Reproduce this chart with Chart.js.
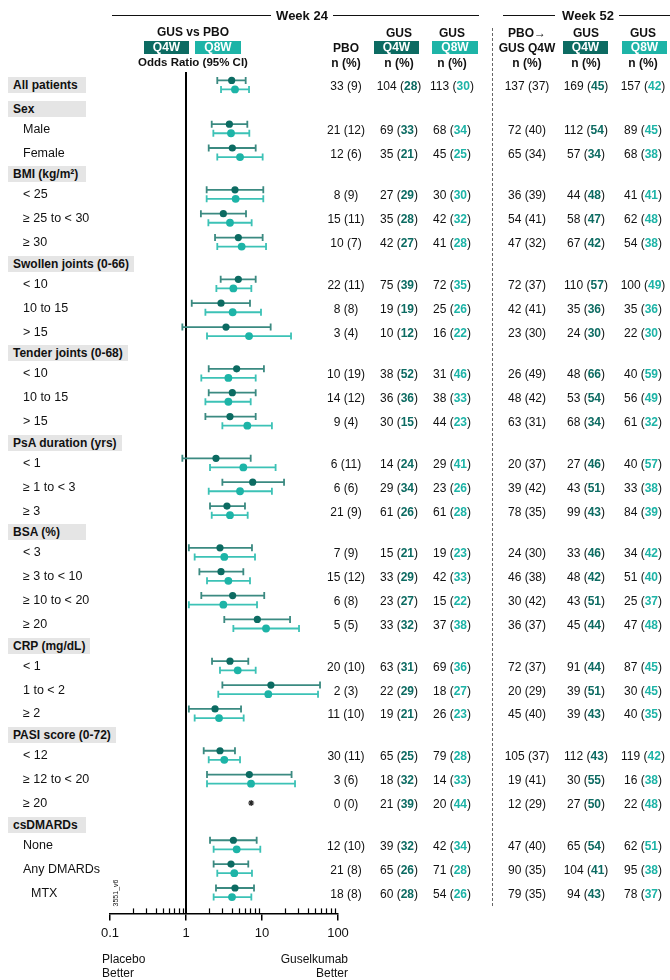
<!DOCTYPE html>
<html>
<head>
<meta charset="utf-8">
<script src="https://cdn.jsdelivr.net/npm/chart.js@4.4.0/dist/chart.umd.min.js"></script>
<style>
  body { margin: 0; background: #fff; font-family: "Liberation Sans", Arial, Helvetica, sans-serif; color: #111; }
  #page { position: relative; width: 670px; height: 980px; overflow: hidden; }
  #c { position: absolute; left: 0; top: 0; }
  .t { position: absolute; white-space: nowrap; line-height: 1; }
  .hbox { position: absolute; background: #e5e5e5; font-weight: bold; font-size: 12px; line-height: 16px; height: 16px; padding: 0 5px; min-width: 68px; white-space: nowrap; }
  .tag { position: absolute; color: #fff; font-weight: bold; font-size: 12px; line-height: 13px; height: 13px; text-align: center; }
  .hl { position: absolute; height: 0; border-top: 1px solid #111; }
</style>
</head>
<body>
<div id="page">
  <canvas id="c" width="670" height="980"></canvas>
</div>
<script>
// --- rows (A = all patients, H = group header, S = subgroup, M = sub-subgroup) ---
const rowLabels = ['All patients', 'Sex', 'Male', 'Female', 'BMI (kg/m²)', '< 25', '≥ 25 to < 30', '≥ 30',
  'Swollen joints (0-66)', '< 10', '10 to 15', '> 15', 'Tender joints (0-68)', '< 10', '10 to 15', '> 15',
  'PsA duration (yrs)', '< 1', '≥ 1 to < 3', '≥ 3', 'BSA (%)', '< 3', '≥ 3 to < 10', '≥ 10 to < 20', '≥ 20',
  'CRP (mg/dL)', '< 1', '1 to < 2', '≥ 2', 'PASI score (0-72)', '< 12', '≥ 12 to < 20', '≥ 20',
  'csDMARDs', 'None', 'Any DMARDs', 'MTX'];
const rowKinds = ['A', 'H', 'S', 'S', 'H', 'S', 'S', 'S', 'H', 'S', 'S', 'S', 'H', 'S', 'S', 'S',
  'H', 'S', 'S', 'S', 'H', 'S', 'S', 'S', 'S', 'H', 'S', 'S', 'S', 'H', 'S', 'S', 'S', 'H', 'S', 'S', 'M'];

// --- odds ratios (95% CI), null where not shown ---
const q4wOR = [3.99, null, 3.72, 4.07, null, 4.41, 3.1, 4.88, null, 4.88, 2.89, 3.36, null, 4.64, 4.07, 3.79,
  null, 2.48, 7.54, 3.46, null, 2.8, 2.89, 4.11, 8.68, null, 3.79, 13.1, 2.41, null, 2.8, 6.81, null, null, 4.2, 3.91, 4.41];
const q4wLo = [2.58, null, 2.18, 1.99, null, 1.87, 1.57, 2.41, null, 2.86, 1.19, 0.895, null, 1.99, 1.99, 1.8,
  null, 0.895, 3.01, 2.07, null, 1.09, 1.5, 1.59, 3.19, null, 2.2, 3.01, 1.09, null, 1.71, 1.89, null, null, 2.07, 2.31, 2.48];
const q4wHi = [6.1, null, 6.41, 8.26, null, 10.4, 6.16, 10.2, null, 8.26, 6.95, 13.0, null, 10.6, 8.26, 8.26,
  null, 7.1, 19.5, 5.97, null, 7.38, 5.68, 10.7, 23.4, null, 6.6, 58, 5.3, null, 4.41, 24.5, null, null, 8.51, 6.6, 7.85];

const q8wOR = [4.41, null, 3.91, 5.14, null, 4.5, 3.79, 5.4, null, 4.2, 4.11, 6.75, null, 3.61, 3.61, 6.41,
  null, 5.68, 5.14, 3.79, null, 3.19, 3.61, 3.1, 11.3, null, 4.79, 12.1, 2.72, null, 3.19, 7.17, null, null, 4.64, 4.32, 4.03];
const q8wLo = [2.89, null, 2.29, 2.58, null, 1.87, 1.97, 2.58, null, 2.51, 1.8, 1.89, null, 1.59, 1.8, 3.01,
  null, 2.07, 1.99, 2.18, null, 1.3, 1.89, 1.09, 4.2, null, 2.8, 2.66, 1.3, null, 1.99, 1.89, null, null, 2.31, 2.58, 2.31];
const q8wHi = [6.75, null, 6.81, 10.2, null, 10.4, 7.31, 11.3, null, 7.24, 9.7, 24.1, null, 8.26, 7.1, 13.5,
  null, 15.1, 13.5, 6.48, null, 8.09, 6.95, 8.6, 30.7, null, 8.26, 54.6, 5.74, null, 5.14, 27.2, null, null, 9.5, 7.38, 7.24];

// not estimable (PASI >= 20): asterisk
const starRows = [32];
const starOR = [7.2];

// --- responders n (%) ---
const pbo24N   = [33, null, 21, 12, null, 8, 15, 10, null, 22, 8, 3, null, 10, 14, 9, null, 6, 6, 21, null, 7, 15, 6, 5, null, 20, 2, 11, null, 30, 3, 0, null, 12, 21, 18];
const pbo24Pct = [9, null, 12, 6, null, 9, 11, 7, null, 11, 8, 4, null, 19, 12, 4, null, 11, 6, 9, null, 9, 12, 8, 5, null, 10, 3, 10, null, 11, 6, 0, null, 10, 8, 8];
const q4w24N   = [104, null, 69, 35, null, 27, 35, 42, null, 75, 19, 10, null, 38, 36, 30, null, 14, 29, 61, null, 15, 33, 23, 33, null, 63, 22, 19, null, 65, 18, 21, null, 39, 65, 60];
const q4w24Pct = [28, null, 33, 21, null, 29, 28, 27, null, 39, 19, 12, null, 52, 36, 15, null, 24, 34, 26, null, 21, 29, 27, 32, null, 31, 29, 21, null, 25, 32, 39, null, 32, 26, 28];
const q8w24N   = [113, null, 68, 45, null, 30, 42, 41, null, 72, 25, 16, null, 31, 38, 44, null, 29, 23, 61, null, 19, 42, 15, 37, null, 69, 18, 26, null, 79, 14, 20, null, 42, 71, 54];
const q8w24Pct = [30, null, 34, 25, null, 30, 32, 28, null, 35, 26, 22, null, 46, 33, 23, null, 41, 26, 28, null, 23, 33, 22, 38, null, 36, 27, 23, null, 28, 33, 44, null, 34, 28, 26];
const pbo52N   = [137, null, 72, 65, null, 36, 54, 47, null, 72, 42, 23, null, 26, 48, 63, null, 20, 39, 78, null, 24, 46, 30, 36, null, 72, 20, 45, null, 105, 19, 12, null, 47, 90, 79];
const pbo52Pct = [37, null, 40, 34, null, 39, 41, 32, null, 37, 41, 30, null, 49, 42, 31, null, 37, 42, 35, null, 30, 38, 42, 37, null, 37, 29, 40, null, 37, 41, 29, null, 40, 35, 35];
const q4w52N   = [169, null, 112, 57, null, 44, 58, 67, null, 110, 35, 24, null, 48, 53, 68, null, 27, 43, 99, null, 33, 48, 43, 45, null, 91, 39, 39, null, 112, 30, 27, null, 65, 104, 94];
const q4w52Pct = [45, null, 54, 34, null, 48, 47, 42, null, 57, 36, 30, null, 66, 54, 34, null, 46, 51, 43, null, 46, 42, 51, 44, null, 44, 51, 43, null, 43, 55, 50, null, 54, 41, 43];
const q8w52N   = [157, null, 89, 68, null, 41, 62, 54, null, 100, 35, 22, null, 40, 56, 61, null, 40, 33, 84, null, 34, 51, 25, 47, null, 87, 30, 40, null, 119, 16, 22, null, 62, 95, 78];
const q8w52Pct = [42, null, 45, 38, null, 41, 48, 38, null, 49, 36, 30, null, 59, 49, 32, null, 57, 38, 39, null, 42, 40, 37, 48, null, 45, 45, 35, null, 42, 38, 48, null, 51, 38, 37];

const xTicks = [0.1, 1, 10, 100];
const minorTicks = [0.2, 0.3, 0.4, 0.5, 0.6, 0.7, 0.8, 0.9, 2, 3, 4, 5, 6, 7, 8, 9, 20, 30, 40, 50, 60, 70, 80, 90];

// colours
const DARK = '#0c6b62', LIGHT = '#1db4a7';
const DARK_LINE = '#3b8a81', LIGHT_LINE = '#3cc2b6';

// row slots: group headers sit a little closer to their neighbours
const slots = [];
rowKinds.forEach((k, i) => {
  if (i === 0) { slots.push(0); return; }
  const prev = rowKinds[i - 1];
  let step = 1;
  if (k === 'H' && prev !== 'A') step = 22 / 24;
  else if (prev === 'H') step = 20 / 24;
  slots.push(slots[i - 1] + step);
});
const OFF = 0.19;

const pts = (or, off) => or.map((v, i) => v == null ? null : { x: v, y: slots[i] + off }).filter(Boolean);

// CI whiskers, reference line and minor ticks
const forestPlugin = {
  id: 'forest',
  beforeDatasetsDraw(chart) {
    const { ctx, chartArea, scales: { x, y } } = chart;
    ctx.save();
    const x1 = x.getPixelForValue(1);
    ctx.strokeStyle = '#000';
    ctx.lineWidth = 2;
    ctx.beginPath();
    ctx.moveTo(x1, chartArea.top);
    ctx.lineTo(x1, chartArea.bottom);
    ctx.stroke();

    ctx.lineWidth = 1.2;
    minorTicks.forEach(v => {
      const px = Math.round(x.getPixelForValue(v)) + 0.5;
      ctx.beginPath();
      ctx.moveTo(px, chartArea.bottom);
      ctx.lineTo(px, chartArea.bottom - 5);
      ctx.stroke();
    });

    [[q4wLo, q4wHi, -OFF, DARK_LINE], [q8wLo, q8wHi, OFF, LIGHT_LINE]].forEach(([lo, hi, off, col]) => {
      ctx.strokeStyle = col;
      ctx.lineWidth = 1.8;
      lo.forEach((l, i) => {
        if (l == null) return;
        const yy = y.getPixelForValue(slots[i] + off);
        const a = x.getPixelForValue(l), b = x.getPixelForValue(hi[i]);
        ctx.beginPath();
        ctx.moveTo(a, yy); ctx.lineTo(b, yy);
        ctx.moveTo(a, yy - 3.5); ctx.lineTo(a, yy + 3.5);
        ctx.moveTo(b, yy - 3.5); ctx.lineTo(b, yy + 3.5);
        ctx.stroke();
      });
    });
    ctx.restore();
  }
};

const chart = new Chart(document.getElementById('c'), {
  type: 'scatter',
  data: {
    datasets: [
      { label: 'Q4W', data: pts(q4wOR, -OFF), backgroundColor: DARK, borderWidth: 0, pointRadius: 3.6 },
      { label: 'Q8W', data: pts(q8wOR, OFF), backgroundColor: LIGHT, borderWidth: 0, pointRadius: 3.9 },
      { label: 'NE', data: starRows.map((r, i) => ({ x: starOR[i], y: slots[r] })), pointStyle: 'star',
        pointRadius: 3, borderColor: '#222', borderWidth: 1.2 }
    ]
  },
  options: {
    responsive: false,
    animation: false,
    events: [],
    layout: { padding: { left: 110, right: 332, top: 72, bottom: 34 } },
    plugins: { legend: { display: false }, tooltip: { enabled: false } },
    scales: {
      x: {
        type: 'logarithmic', min: 0.1, max: 100,
        afterBuildTicks: scale => { scale.ticks = xTicks.map(v => ({ value: v })); },
        ticks: { color: '#111', font: { family: '"Liberation Sans", Arial, sans-serif', size: 13 }, padding: 5,
          autoSkip: false, maxRotation: 0, callback: v => String(v) },
        grid: { drawOnChartArea: false, drawTicks: true, tickLength: 7, color: '#000', lineWidth: 1.5 },
        border: { display: true, color: '#000', width: 1.5 }
      },
      y: { type: 'linear', display: false, reverse: true, min: -13 / 24, max: 833 / 24 }
    }
  },
  plugins: [forestPlugin]
});

// --- text overlay ---
const page = document.getElementById('page');
function put(html, x, y, align, style) {
  const d = document.createElement('div');
  d.className = 't';
  d.innerHTML = html;
  const tx = align === 'center' ? '-50%' : align === 'right' ? '-100%' : '0';
  d.style.cssText = `left:${x}px;top:${y}px;transform:translate(${tx},-50%);` + (style || '');
  page.appendChild(d);
  return d;
}
function line(x0, x1, y) {
  const d = document.createElement('div');
  d.className = 'hl';
  d.style.cssText = `left:${x0}px;top:${y}px;width:${x1 - x0}px;`;
  page.appendChild(d);
}
function tag(text, x0, x1, y, bg) {
  const d = document.createElement('div');
  d.className = 'tag';
  d.textContent = text;
  d.style.cssText = `left:${x0}px;top:${y}px;width:${x1 - x0}px;background:${bg};`;
  page.appendChild(d);
}

// week headers
line(112, 271, 15); put('Week 24', 302, 15, 'center', 'font-weight:bold;font-size:13px');
line(333, 479, 15);
line(503, 555, 15); put('Week 52', 588, 15, 'center', 'font-weight:bold;font-size:13px');
line(619, 670, 15);

put('GUS vs PBO', 193, 32, 'center', 'font-weight:bold;font-size:12px');
tag('Q4W', 144, 189, 41, DARK); tag('Q8W', 195, 241, 41, LIGHT);
put('Odds Ratio (95% CI)', 193, 63, 'center', 'font-weight:bold;font-size:11.5px');

const colX = [346, 399, 452, 527, 586, 643];
const H = 'font-weight:bold;font-size:12px';
put('PBO', colX[0], 48, 'center', H);
put('GUS', colX[1], 33, 'center', H); tag('Q4W', 374, 419, 41, DARK);
put('GUS', colX[2], 33, 'center', H); tag('Q8W', 432, 478, 41, LIGHT);
put('PBO→', colX[3], 33, 'center', H); put('GUS Q4W', colX[3], 48, 'center', H);
put('GUS', colX[4], 33, 'center', H); tag('Q4W', 563, 608, 41, DARK);
put('GUS', colX[5], 33, 'center', H); tag('Q8W', 622, 667, 41, LIGHT);
colX.forEach(x => put('n (%)', x, 63, 'center', H));

// dashed divider
const dash = document.createElement('div');
dash.style.cssText = 'position:absolute;left:492px;top:28px;height:878px;border-left:1px dashed #666;';
page.appendChild(dash);

// rows
const ys = chart.scales.y;
const cols = [
  [pbo24N, pbo24Pct, null], [q4w24N, q4w24Pct, DARK], [q8w24N, q8w24Pct, LIGHT],
  [pbo52N, pbo52Pct, null], [q4w52N, q4w52Pct, DARK], [q8w52N, q8w52Pct, LIGHT]
];
rowLabels.forEach((lab, i) => {
  const y = ys.getPixelForValue(slots[i]);
  const k = rowKinds[i];
  if (k === 'A' || k === 'H') {
    const d = document.createElement('div');
    d.className = 'hbox';
    d.textContent = lab;
    d.style.cssText = `left:8px;top:${Math.round(y - 8)}px;`;
    page.appendChild(d);
  } else {
    put(lab, k === 'M' ? 31 : 23, y, 'left', 'font-size:12.5px');
  }
  if (pbo24N[i] == null) return;
  cols.forEach(([n, p, col], c) => {
    const pct = col ? `<b style="color:${col}">${p[i]}</b>` : p[i];
    put(`${n[i]} (${pct})`, colX[c], y + 1, 'center', 'font-size:12px');
  });
});

// footer
put('3551_v6', 115, 893, 'center', 'font-size:7px;transform:translate(-50%,-50%) rotate(-90deg)');
put('Placebo<br>Better', 102, 966, 'left', 'font-size:12px;line-height:14px');
put('Guselkumab<br>Better', 348, 966, 'right', 'font-size:12px;line-height:14px;text-align:right');
</script>
</body>
</html>
